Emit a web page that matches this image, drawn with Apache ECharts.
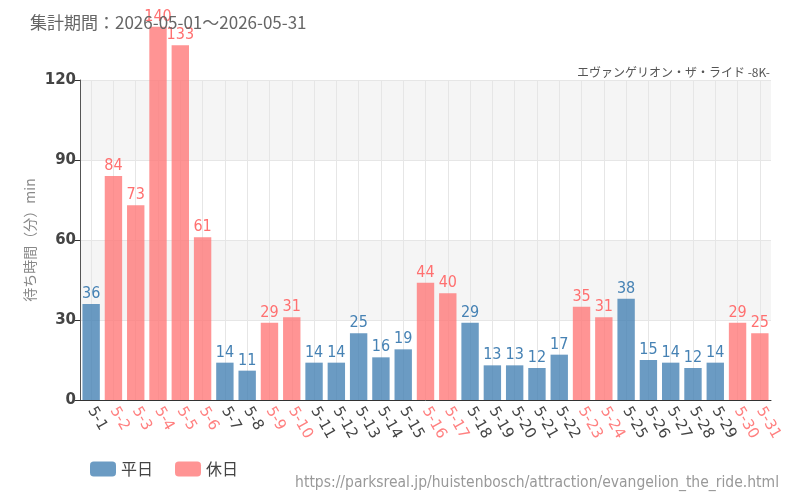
<!DOCTYPE html>
<html>
<head>
<meta charset="utf-8">
<script src="https://cdn.jsdelivr.net/npm/echarts@6/dist/echarts.min.js"></script>
<style>
  html, body { margin: 0; padding: 0; background: #fff; }
  #chart { width: 800px; height: 500px; }
</style>
</head>
<body>
<div id="chart"></div>
<script>
const days = ['5-1','5-2','5-3','5-4','5-5','5-6','5-7','5-8','5-9','5-10','5-11','5-12','5-13','5-14','5-15','5-16',
  '5-17','5-18','5-19','5-20','5-21','5-22','5-23','5-24','5-25','5-26','5-27','5-28','5-29','5-30','5-31'];
const waits = [36, 84, 73, 140, 133, 61, 14, 11, 29, 31, 14, 14, 25, 16, 19, 44,
  40, 29, 13, 13, 12, 17, 35, 31, 38, 15, 14, 12, 14, 29, 25];
const holidays = ['5-2','5-3','5-4','5-5','5-6','5-9','5-10','5-16','5-17','5-23','5-24','5-30','5-31'];
const yTicks = [0, 30, 60, 90, 120];

const BLUE = 'rgba(70,130,180,0.8)';
const PINK = 'rgba(255,121,121,0.8)';
const labelFont = "'DejaVu Sans Condensed', sans-serif";

const weekday = waits.map((v, i) => holidays.includes(days[i]) ? '-' : v);
const holiday = waits.map((v, i) => holidays.includes(days[i]) ? v : '-');

const chart = echarts.init(document.getElementById('chart'));

const barLabel = color => ({
  show      : true,
  position  : 'top',
  distance  : 2,
  color     : color,
  fontSize  : 16,
  fontFamily: labelFont
});

chart.setOption({
  animation: false,
  title    : [
    {
      text     : '集計期間：2026-05-01～2026-05-31',
      left     : 25,
      top      : 9,
      textStyle: { fontSize: 17, fontWeight: 'normal', color: '#666', fontFamily: 'Noto Sans CJK JP' }
    },
    {
      text     : 'エヴァンゲリオン・ザ・ライド -8K-',
      right    : 25,
      top      : 61,
      textStyle: { fontSize: 12, fontWeight: 'normal', color: '#555', fontFamily: 'Noto Sans CJK JP' }
    }
  ],
  legend: {
    left      : 85,
    top       : 456,
    itemWidth : 26,
    itemHeight: 15,
    itemGap   : 22,
    textStyle : { fontSize: 16, color: '#444', fontFamily: 'Noto Sans CJK JP' },
    data      : ['平日', '休日']
  },
  graphic: [{
    type : 'text',
    right: 21,
    top  : 475,
    style: {
      text      : 'https://parksreal.jp/huistenbosch/attraction/evangelion_the_ride.html',
      fill      : '#999',
      fontSize  : 15.5,
      fontFamily: "'DejaVu Sans Condensed', sans-serif"
    }
  }],
  grid: { left: 80, right: 29, top: 80, bottom: 100, containLabel: false },
  xAxis: {
    type     : 'category',
    data     : days,
    axisLine : { lineStyle: { color: '#333' } },
    axisTick : { alignWithLabel: true, lineStyle: { color: '#333' } },
    // grid lines through the middle of each bar, like the ticks
    splitLine: { show: true, alignWithLabel: true, lineStyle: { color: '#e6e6e6' } },
    axisLabel: {
      interval  : 0,
      rotate    : -60,
      fontSize  : 15,
      margin    : 8,
      fontFamily: "'DejaVu Sans', sans-serif",
      color     : (v) => holidays.includes(v) ? '#ff8080' : '#444'
    }
  },
  yAxis: {
    type          : 'value',
    min           : yTicks[0],
    max           : yTicks[yTicks.length - 1],
    interval      : 30,
    name          : '待ち時間（分）min',
    nameLocation  : 'middle',
    nameGap       : 43,
    nameMoveOverlap: false,
    nameTextStyle : { color: '#888', fontSize: 14, fontFamily: 'Noto Sans CJK JP' },
    axisLine      : { show: true, lineStyle: { color: '#555' } },
    axisTick      : { show: true, lineStyle: { color: '#333' } },
    axisLabel     : { margin: 4, fontSize: 15, fontWeight: 'bold', color: '#444', fontFamily: "'DejaVu Sans', sans-serif" },
    splitLine     : { lineStyle: { color: '#e6e6e6' } },
    splitArea     : { show: true, areaStyle: { color: ['rgba(255,255,255,0)', '#f5f5f5'] } }
  },
  series: [
    {
      name     : '平日',
      type     : 'bar',
      data     : weekday,
      clip     : false,
      barWidth : '78%',
      barGap   : '-100%',
      itemStyle: { color: BLUE },
      label    : barLabel('#4682b4')
    },
    {
      name     : '休日',
      type     : 'bar',
      data     : holiday,
      clip     : false,
      barWidth : '78%',
      barGap   : '-100%',
      itemStyle: { color: PINK },
      label    : barLabel('#ff7070')
    }
  ]
});
</script>
</body>
</html>
